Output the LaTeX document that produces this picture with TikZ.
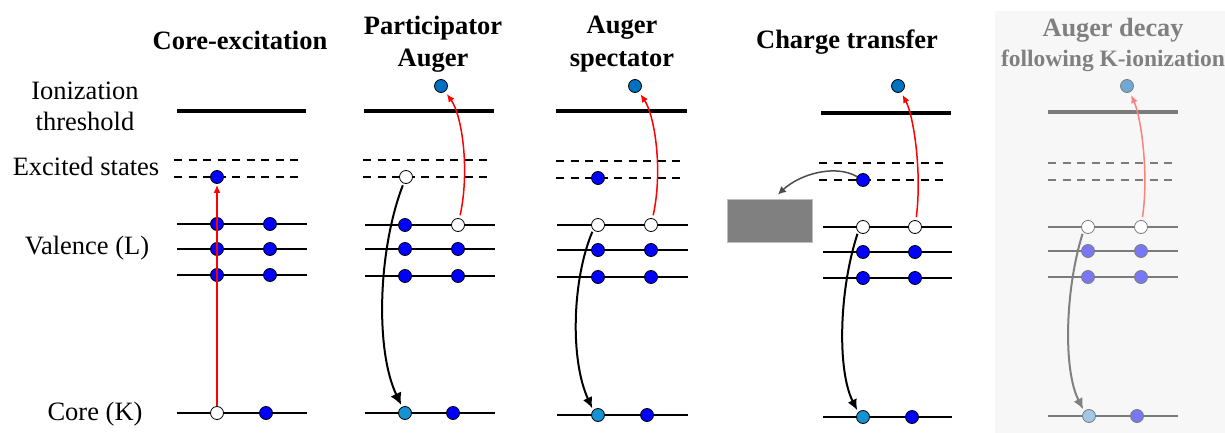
\documentclass[tikz,border=0pt]{standalone}
\usepackage{fontspec}
\setmainfont{Liberation Serif}
\usetikzlibrary{arrows.meta,positioning,calc}
\definecolor{elblue}{RGB}{0,0,255}
\definecolor{coreblue}{RGB}{20,146,210}
\definecolor{outblue}{RGB}{0,112,192}
\definecolor{fadegray}{RGB}{123,123,123}
\definecolor{fadeblue}{RGB}{120,120,245}
\definecolor{fadecore}{RGB}{162,198,230}
\definecolor{fadeout}{RGB}{112,168,214}
\definecolor{fadered}{RGB}{255,128,128}
\definecolor{fadetext}{RGB}{128,128,128}
\definecolor{panelbg}{RGB}{247,247,247}
\definecolor{accgray}{RGB}{128,128,128}

\begin{document}
\begin{tikzpicture}[
  x=1pt, y=-1pt,
  lbl/.style={font=\fontsize{26.5}{30}\selectfont, anchor=base, inner sep=0pt},
  ttl/.style={lbl, font=\fontsize{26.5}{30}\selectfont\bfseries},
  thr/.style={line width=4.5pt},
  lev/.style={line width=2.2pt},
  exc/.style={line width=2pt, dash pattern=on 8pt off 6.5pt},
  el/.style={circle, draw, line width=0.8pt, fill=elblue, inner sep=0pt, minimum size=13pt},
  hole/.style={el, fill=white},
  cel/.style={el, fill=coreblue},
  oel/.style={el, fill=outblue},
  fel/.style={el, draw=fadegray, fill=fadeblue},
  fhole/.style={el, draw=fadegray, fill=white},
  fcel/.style={el, draw=fadegray, fill=fadecore},
  foel/.style={el, draw=fadegray, fill=fadeout},
  redarr/.style={-{Latex[length=8pt,width=7pt]}, red, line width=1.5pt},
  decay/.style={-{Latex[length=11pt,width=10pt]}, line width=2pt},
  xfer/.style={-{Latex[length=8pt,width=8pt]}, black!70, line width=1.5pt}
]
\useasboundingbox (0,0) rectangle (1225,433);
\fill[panelbg] (995,11) rectangle (1225,433);

% row labels
\node[lbl] (lion) at (85,100) {Ionization};
\node[lbl] (lthr) at (85,130) {threshold};
\node[lbl] (lexc) at (86,175) {Excited states};
\node[lbl] (lval) at (87,254) {Valence (L)};
\node[lbl] (lcore) at (95,420) {Core (K)};

% titles
\node[ttl] (t1) at (240,50) {Core-excitation};
\node[ttl] (t2a) at (433,35) {Participator};
\node[ttl] (t2b) at (433,67) {Auger};
\node[ttl] (t3a) at (622,34) {Auger};
\node[ttl] (t3b) at (622,67) {spectator};
\node[ttl] (t4) at (847,49) {Charge transfer};
\node[ttl, text=fadetext, font=\fontsize{26.3}{30}\selectfont\bfseries] (t5a) at (1113,37) {Auger decay};
\node[ttl, text=fadetext, font=\fontsize{23.5}{28}\selectfont\bfseries] (t5b) at (1113,67) {following K-ionization};

% panel 1: core excitation
\draw[thr] (177,111) -- (306,111);
\draw[exc] (174,160) -- (304,160);
\draw[exc] (174,177) -- (304,177);
\draw[lev] (177,224) -- (307,224);
\draw[lev] (177,249) -- (307,249);
\draw[lev] (177,275) -- (307,275);
\draw[lev] (177,413) -- (307,413);
\node[el] (p1x) at (217,177) {};
\node[el] (p1v1a) at (217,224) {};
\node[el] (p1v1b) at (270,224) {};
\node[el] (p1v2a) at (217,249) {};
\node[el] (p1v2b) at (270,249) {};
\node[el] (p1v3a) at (217,275) {};
\node[el] (p1v3b) at (270,275) {};
\node[hole] (p1ca) at (217,413) {};
\node[el] (p1cb) at (266,413) {};
\draw[redarr, shorten >=1pt] (p1ca) -- (p1x);

% panel 2: participator Auger
\draw[thr] (364,111) -- (494,111);
\draw[exc] (363,160) -- (493,160);
\draw[exc] (363,177) -- (493,177);
\draw[lev] (365,225) -- (495,225);
\draw[lev] (365,249) -- (495,249);
\draw[lev] (365,276) -- (495,276);
\draw[lev] (365,413) -- (495,413);
\node[oel] (p2o) at (441,86) {};
\node[hole] (p2x) at (406,177) {};
\node[el] (p2v1a) at (405,225) {};
\node[hole] (p2v1b) at (458,225) {};
\node[el] (p2v2a) at (405,249) {};
\node[el] (p2v2b) at (458,249) {};
\node[el] (p2v3a) at (405,276) {};
\node[el] (p2v3b) at (458,276) {};
\node[cel] (p2ca) at (405,413) {};
\node[el] (p2cb) at (453,413) {};
\draw[redarr, shorten <=3pt, shorten >=3pt] (p2v1b) .. controls (470,170) and (462,115) .. (p2o);
\draw[decay, -{Latex[length=12pt,width=12pt]}, shorten <=2pt, shorten >=2pt]
  (p2x) .. controls (378,250) and (375,350) .. (p2ca);

% panel 3: Auger spectator
\draw[thr] (556,111) -- (687,111);
\draw[exc] (556,161) -- (686,161);
\draw[exc] (556,178) -- (686,178);
\draw[lev] (557,225) -- (688,225);
\draw[lev] (557,250) -- (688,250);
\draw[lev] (557,277) -- (688,277);
\draw[lev] (557,415) -- (688,415);
\node[oel] (p3o) at (635,86) {};
\node[el] (p3x) at (598,178) {};
\node[hole] (p3v1a) at (598,225) {};
\node[hole] (p3v1b) at (651,225) {};
\node[el] (p3v2a) at (598,250) {};
\node[el] (p3v2b) at (651,250) {};
\node[el] (p3v3a) at (598,277) {};
\node[el] (p3v3b) at (651,277) {};
\node[cel] (p3ca) at (598,415) {};
\node[el] (p3cb) at (647,415) {};
\draw[redarr, shorten <=3pt, shorten >=3pt] (p3v1b) .. controls (663,171) and (655,116) .. (p3o);
\draw[decay, shorten <=2pt, shorten >=2pt]
  (p3v1a.south west) .. controls (572,280) and (570,360) .. (p3ca.north west);

% panel 4: charge transfer
\draw[thr] (821,113) -- (951,113);
\draw[exc] (819,163) -- (949,163);
\draw[exc] (819,180) -- (949,180);
\draw[lev] (823,227) -- (952,227);
\draw[lev] (823,252) -- (952,252);
\draw[lev] (823,278) -- (952,278);
\draw[lev] (823,417) -- (952,417);
\node[draw=black!25, fill=accgray, line width=0.8pt, minimum width=85pt, minimum height=43pt,
      inner sep=0pt] (acc) at (769.5,220.5) {};
\node[oel] (p4o) at (898,86) {};
\node[el] (p4x) at (863,180) {};
\node[hole] (p4v1a) at (863,227) {};
\node[hole] (p4v1b) at (915,227) {};
\node[el] (p4v2a) at (863,252) {};
\node[el] (p4v2b) at (915,252) {};
\node[el] (p4v3a) at (863,278) {};
\node[el] (p4v3b) at (915,278) {};
\node[cel] (p4ca) at (863,417) {};
\node[el] (p4cb) at (912,417) {};
\draw[redarr, shorten <=3pt, shorten >=3pt] (p4v1b) .. controls (922,173) and (914,117) .. (p4o);
\draw[decay, shorten <=2pt, shorten >=2pt]
  (p4v1a.south west) .. controls (839,290) and (837,370) .. (p4ca.north west);
\draw[xfer, shorten >=6pt] (p4x) .. controls (835,164) and (800,174) .. ([xshift=4pt]acc.north);

% panel 5: Auger decay after K-shell ionization (faded)
\draw[thr, fadegray] (1048,112) -- (1178,112);
\draw[exc, fadegray] (1048,163) -- (1178,163);
\draw[exc, fadegray] (1048,180) -- (1178,180);
\draw[lev, fadegray] (1048,227) -- (1178,227);
\draw[lev, fadegray] (1048,251) -- (1178,251);
\draw[lev, fadegray] (1048,277) -- (1178,277);
\draw[lev, fadegray] (1048,416) -- (1178,416);
\node[foel] (p5o) at (1127,86) {};
\node[fhole] (p5v1a) at (1088,227) {};
\node[fhole] (p5v1b) at (1141,227) {};
\node[fel] (p5v2a) at (1088,251) {};
\node[fel] (p5v2b) at (1141,251) {};
\node[fel] (p5v3a) at (1088,277) {};
\node[fel] (p5v3b) at (1141,277) {};
\node[fcel] (p5ca) at (1089,416) {};
\node[fel] (p5cb) at (1137,416) {};
\draw[redarr, fadered, shorten <=3pt, shorten >=3pt] (p5v1b) .. controls (1149,173) and (1141,117) .. (p5o);
\draw[decay, accgray, shorten <=2pt, shorten >=2pt]
  (p5v1a.south west) .. controls (1065,290) and (1063,370) .. (p5ca.north west);
\end{tikzpicture}
\end{document}
